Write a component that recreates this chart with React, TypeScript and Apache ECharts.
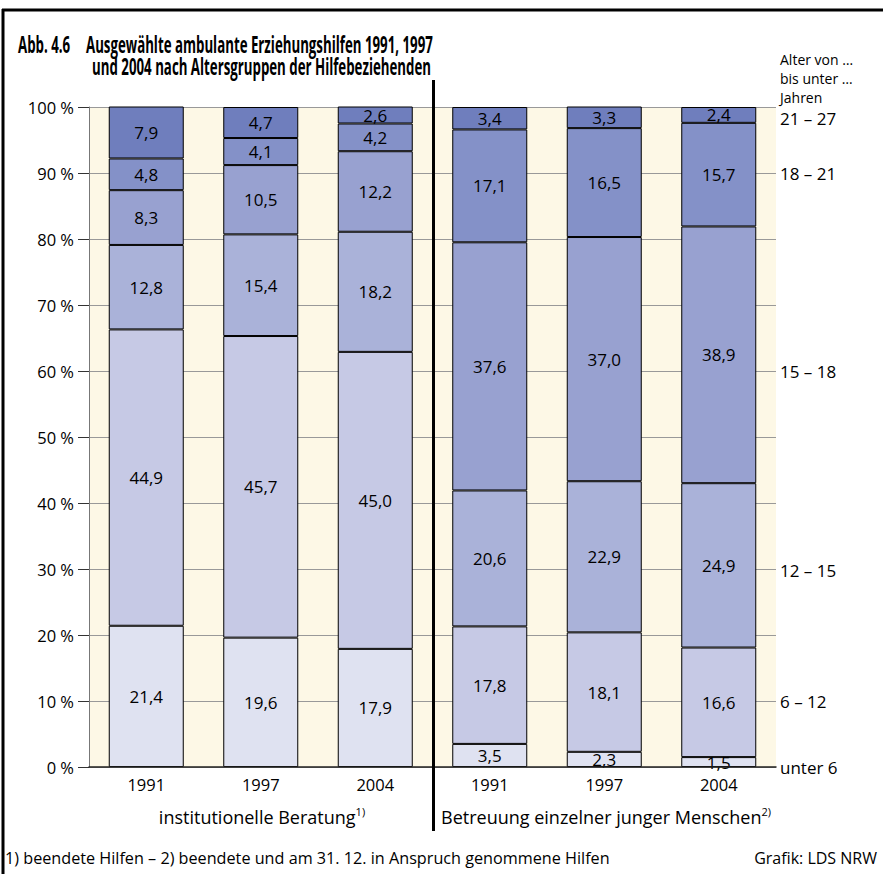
import React, { useEffect, useRef } from "react";
import * as echarts from "echarts";

const categories = ["1991", "1997", "2004", "1991 ", "1997 ", "2004 "];
const ageLabels = ["unter 6", "6 – 12", "12 – 15", "15 – 18", "18 – 21", "21 – 27"];
const ageHeader = ["Alter von …", "bis unter …", "Jahren"];
const under6 = [21.4, 19.6, 17.9, 3.5, 2.3, 1.5];
const age6to12 = [44.9, 45.7, 45.0, 17.8, 18.1, 16.6];
const age12to15 = [12.8, 15.4, 18.2, 20.6, 22.9, 24.9];
const age15to18 = [8.3, 10.5, 12.2, 37.6, 37.0, 38.9];
const age18to21 = [4.8, 4.1, 4.2, 17.1, 16.5, 15.7];
const age21to27 = [7.9, 4.7, 2.6, 3.4, 3.3, 2.4];
const seriesValues = [under6, age6to12, age12to15, age15to18, age18to21, age21to27];
const seriesColors = ["#dfe2f1", "#c6c9e5", "#aab2d9", "#98a1d0", "#8491c8", "#6f7ebd"];

const FONT = "Open Sans";
const TITLE_FONT = "Open Sans";

function measure(text: string, font: string): number {
  const c = document.createElement("canvas").getContext("2d")!;
  c.font = font;
  return c.measureText(text).width;
}

export default function App() {
  const ref = useRef<HTMLDivElement>(null);
  useEffect(() => {
    document.body.style.margin = "0";
    const chart = echarts.init(ref.current!, null, { renderer: "svg" });
    const gridLeft = 89, gridTop = 107, gridW = 687, gridH = 660;
    const ageY = [767, 701, 570, 371, 173, 118];
    const headerY = [59, 78, 97];
    const TS = 23;
    const titleFont = `bold ${TS}px ${TITLE_FONT}`;
    const line1 = "Ausgewählte ambulante Erziehungshilfen 1991, 1997";
    const line2 = "und 2004 nach Altersgruppen der Hilfebeziehenden";
    const sx = 347 / measure(line1, titleFont);
    const titleStyle = (text: string, align = "left") => ({
      text, fontFamily: TITLE_FONT, fontWeight: "bold", fontSize: TS, fill: "#000", textAlign: align, textVerticalAlign: "middle",
    });
    const txt = (text: string, size: number, align = "left") => ({
      text, fontFamily: FONT, fontSize: size, fill: "#000", textAlign: align, textVerticalAlign: "middle",
    });
    const graphic: any[] = [
      { type: "line", shape: { x1: 2, y1: 10, x2: 883, y2: 10 }, style: { stroke: "#000", lineWidth: 3 } },
      { type: "line", shape: { x1: 3, y1: 9, x2: 3, y2: 874 }, style: { stroke: "#000", lineWidth: 3 } },
      { type: "line", shape: { x1: 433.5, y1: 80, x2: 433.5, y2: 831 }, style: { stroke: "#000", lineWidth: 3 }, z: 100 },
      { type: "text", x: 18, y: 44, scaleX: sx, style: titleStyle("Abb. 4.6") },
      { type: "text", x: 86, y: 44, scaleX: sx, style: titleStyle(line1) },
      { type: "text", x: 431, y: 66, scaleX: sx, style: titleStyle(line2, "right") },
      {
        type: "text", x: 262, y: 817,
        style: {
          text: "{a|institutionelle Beratung}{s|1)}",
          textAlign: "center", textVerticalAlign: "middle", fill: "#000",
          rich: { a: { fontFamily: FONT, fontSize: 18, fill: "#000" }, s: { fontFamily: FONT, fontSize: 11, fill: "#000", padding: [0, 0, 11, 0] } },
        },
      },
      {
        type: "text", x: 606, y: 817,
        style: {
          text: "{a|Betreuung einzelner junger Menschen}{s|2)}",
          textAlign: "center", textVerticalAlign: "middle", fill: "#000",
          rich: { a: { fontFamily: FONT, fontSize: 18, fill: "#000" }, s: { fontFamily: FONT, fontSize: 11, fill: "#000", padding: [0, 0, 11, 0] } },
        },
      },
      { type: "text", x: 5, y: 858, style: txt("1) beendete Hilfen – 2) beendete und am 31. 12. in Anspruch genommene Hilfen", 16.2) },
      { type: "text", x: 877, y: 858, style: txt("Grafik: LDS NRW", 16, "right") },
    ];
    ageHeader.forEach((t, i) => {
      graphic.push({ type: "text", x: 780, y: headerY[i], style: txt(t, 14) });
    });
    ageLabels.forEach((t, i) => {
      graphic.push({ type: "text", x: 780, y: ageY[i], style: txt(t, 17) });
    });
    chart.setOption({
      animation: false,
      backgroundColor: "#fff",
      grid: { left: gridLeft, top: gridTop, width: gridW, height: gridH, show: true, backgroundColor: "#fdf8e6", borderWidth: 0 },
      xAxis: {
        type: "category",
        data: categories,
        axisLine: { show: true, lineStyle: { color: "#222", width: 1.5 } },
        axisTick: { show: false },
        axisLabel: { fontFamily: FONT, fontSize: 16.5, color: "#000", margin: 9, formatter: (v: string) => v.trim() },
        z: 10,
      },
      yAxis: {
        type: "value",
        min: 0, max: 100, interval: 10,
        axisLine: { show: true, lineStyle: { color: "#777", width: 1 } },
        axisTick: { show: true, length: 11, lineStyle: { color: "#333", width: 1 } },
        axisLabel: { fontFamily: FONT, fontSize: 16.5, color: "#000", margin: 15, formatter: "{value} %" },
        splitLine: { show: true, lineStyle: { color: "#999", width: 1 } },
      },
      series: seriesValues.map((vals, i) => ({
        type: "bar",
        name: ageLabels[i],
        stack: "total",
        data: vals,
        barWidth: 75,
        itemStyle: { color: seriesColors[i], borderColor: "#000", borderWidth: 1 },
        label: {
          show: true, position: "inside", color: "#000", fontFamily: FONT, fontSize: 17,
          formatter: (p: any) => Number(p.value).toFixed(1).replace(".", ","),
        },
      })),
      graphic,
    });
    return () => chart.dispose();
  }, []);
  return <div ref={ref} style={{ width: 883, height: 874 }} />;
}
